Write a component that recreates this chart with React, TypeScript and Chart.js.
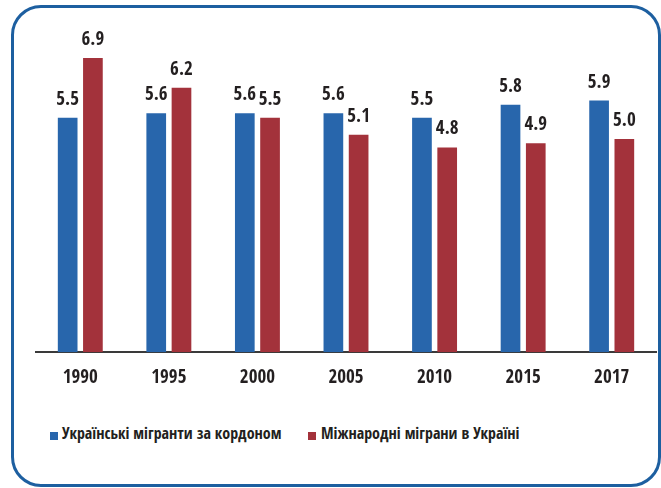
import React, { useEffect, useRef } from "react";
import { Chart, registerables } from "chart.js";

Chart.register(...registerables);

const categories = ["1990", "1995", "2000", "2005", "2010", "2015", "2017"];
const ukrainianAbroad = [5.5, 5.6, 5.6, 5.6, 5.5, 5.8, 5.9];
const migrantsInUkraine = [6.9, 6.2, 5.5, 5.1, 4.8, 4.9, 5.0];
const legendNames = ["Українські мігранти за кордоном", "Міжнародні міграни в Україні"];

const BLUE = "#2866ac";
const RED = "#a3323b";
const TEXT = "#231f20";
const FONT = '"Open Sans Condensed", "Roboto Condensed", sans-serif';

const valueLabels = {
  id: "valueLabels",
  afterDatasetsDraw(chart: any) {
    const ctx = chart.ctx;
    ctx.save();
    ctx.font = `bold 19px ${FONT}`;
    ctx.fillStyle = TEXT;
    ctx.textAlign = "center";
    ctx.textBaseline = "alphabetic";
    chart.data.datasets.forEach((ds: any, di: number) => {
      const meta = chart.getDatasetMeta(di);
      meta.data.forEach((bar: any, i: number) => {
        const v = ds.data[i];
        ctx.fillText(Number(v).toFixed(1), bar.x, bar.y - 13);
      });
    });
    ctx.restore();
  },
};

export default function App() {
  const ref = useRef<HTMLCanvasElement | null>(null);
  useEffect(() => {
    if (!ref.current) return;
    const chart = new Chart(ref.current, {
      type: "bar",
      data: {
        labels: categories,
        datasets: [
          {
            label: legendNames[0],
            data: ukrainianAbroad,
            backgroundColor: BLUE,
            categoryPercentage: 0.57,
            barPercentage: 0.78,
          },
          {
            label: legendNames[1],
            data: migrantsInUkraine,
            backgroundColor: RED,
            categoryPercentage: 0.57,
            barPercentage: 0.78,
          },
        ],
      },
      options: {
        responsive: false,
        animation: false,
        layout: { padding: { left: 36, right: 5, top: 11, bottom: 12 } },
        plugins: {
          legend: { display: false },
          tooltip: { enabled: false },
        },
        scales: {
          x: {
            grid: { display: false, drawTicks: false },
            border: { display: true, color: "#3a3a3a", width: 2 },
            ticks: {
              color: TEXT,
              padding: 14,
              font: { family: FONT, size: 19, weight: "bold" },
            },
          },
          y: {
            display: false,
            min: 0,
            max: 8,
          },
        },
      },
      plugins: [valueLabels],
    });
    return () => chart.destroy();
  }, []);

  const legendText: React.CSSProperties = {
    position: "absolute",
    top: 423,
    fontFamily: FONT,
    fontWeight: "bold",
    fontSize: 16,
    color: TEXT,
    whiteSpace: "nowrap",
    lineHeight: "20px",
  };
  const box = (color: string, left: number): React.CSSProperties => ({
    position: "absolute",
    left,
    top: 432,
    width: 8,
    height: 8,
    background: color,
  });

  return (
    <div style={{ position: "fixed", left: 0, top: 0, width: 661, height: 488, background: "#fff" }}>
      <div
        style={{
          position: "absolute",
          left: 11,
          top: 5,
          width: 650,
          height: 482,
          boxSizing: "border-box",
          border: "3px solid #1d5fa0",
          borderRadius: 30,
        }}
      />
      <canvas ref={ref} width={661} height={415} style={{ position: "absolute", left: 0, top: 0 }} />
      <div style={box(BLUE, 50)} />
      <div style={{ ...legendText, left: 62 }}>{legendNames[0]}</div>
      <div style={box(RED, 308)} />
      <div style={{ ...legendText, left: 321 }}>{legendNames[1]}</div>
    </div>
  );
}
